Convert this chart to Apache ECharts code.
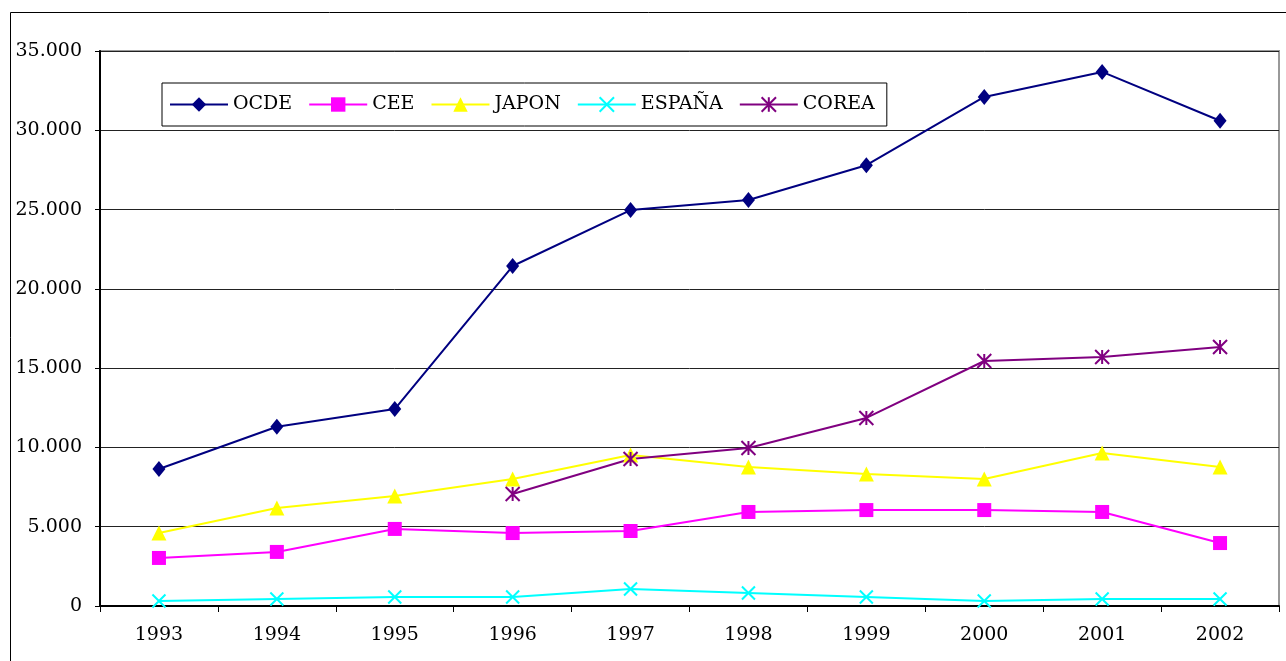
<!DOCTYPE html>
<html>
<head>
<meta charset="utf-8">
<script src="https://cdn.jsdelivr.net/npm/echarts@6/dist/echarts.min.js"></script>
<style>
  html, body { margin: 0; padding: 0; background: #ffffff; }
  #main { width: 1286px; height: 661px; }
</style>
</head>
<body>
<div id="main"></div>
<script>
// datos
const years = ['1993', '1994', '1995', '1996', '1997', '1998', '1999', '2000', '2001', '2002']
const ocde = [8640, 11300, 12420, 21440, 24970, 25600, 27800, 32100, 33680, 30600]
const cee = [3030, 3410, 4860, 4600, 4730, 5930, 6050, 6050, 5930, 3970]
const japon = [4600, 6180, 6940, 8010, 9520, 8770, 8320, 8010, 9650, 8770]
const espana = [320, 440, 570, 570, 1070, 820, 570, 320, 440, 440]
const corea = [null, null, null, 7060, 9270, 9960, 11860, 15450, 15700, 16330]
const yTicks = [0, 5000, 10000, 15000, 20000, 25000, 30000, 35000]

const FONT = 'DejaVu Serif'

// 35000 -> "35.000"
function miles (v) {
  return String(v).replace(/\B(?=(\d{3})+(?!\d))/g, '.')
}

const crossPath = 'path://M0,0L10,10M10,0L0,10'
const starPath = 'path://M0,0L10,10M10,0L0,10M5,0L5,10'

function serie (name, data, color, symbol, size, hollow) {
  return {
    name: name,
    type: 'line',
    data: data,
    symbol: symbol,
    symbolSize: size,
    showAllSymbol: true,
    lineStyle: { color: color, width: 2 },
    itemStyle: hollow
      ? { color: 'rgba(0,0,0,0)', borderColor: color, borderWidth: 2 }
      : { color: color, borderWidth: 0 },
    emphasis: { disabled: true }
  }
}

const myChart = echarts.init(document.getElementById('main'))
myChart.setOption({
  animation: false,
  backgroundColor: '#ffffff',
  textStyle: { fontFamily: FONT },
  graphic: [{
    type: 'rect',
    shape: { x: 10.5, y: 12.5, width: 1300, height: 700 },
    style: { fill: 'none', stroke: '#000', lineWidth: 1 },
    silent: true,
    z: -1
  }],
  grid: {
    left: 100,
    right: 7,
    top: 51,
    bottom: 55,
    show: true,
    borderColor: '#999',
    borderWidth: 2
  },
  legend: {
    left: 162,
    top: 83,
    orient: 'horizontal',
    itemWidth: 58,
    itemHeight: 18,
    itemGap: 16,
    padding: [12, 12, 12, 7],
    borderColor: '#000',
    borderWidth: 1,
    lineStyle: { width: 2 },
    textStyle: { fontFamily: FONT, fontSize: 19, color: '#000' },
    data: ['OCDE', 'CEE', 'JAPON', 'ESPAÑA', 'COREA']
  },
  xAxis: {
    type: 'category',
    data: years,
    boundaryGap: true,
    axisLine: { lineStyle: { color: '#000', width: 2 } },
    axisTick: { show: true, length: 6, lineStyle: { color: '#000' } },
    axisLabel: { color: '#000', fontFamily: FONT, fontSize: 19, margin: 20 },
    splitLine: { show: false }
  },
  yAxis: {
    type: 'value',
    min: yTicks[0],
    max: yTicks[yTicks.length - 1],
    interval: yTicks[1] - yTicks[0],
    axisLine: { show: true, lineStyle: { color: '#000', width: 2 } },
    axisTick: { show: true, length: 5, lineStyle: { color: '#000' } },
    axisLabel: { color: '#000', fontFamily: FONT, fontSize: 19, margin: 18, formatter: miles },
    splitLine: { show: true, lineStyle: { color: '#222', width: 1 } }
  },
  series: [
    serie('OCDE', ocde, '#000080', 'diamond', [13, 16], false),
    serie('CEE', cee, '#ff00ff', 'rect', 14, false),
    serie('JAPON', japon, '#ffff00', 'triangle', 15, false),
    serie('ESPAÑA', espana, '#00ffff', crossPath, 13, true),
    serie('COREA', corea, '#800080', starPath, 14, true)
  ]
})
</script>
</body>
</html>
